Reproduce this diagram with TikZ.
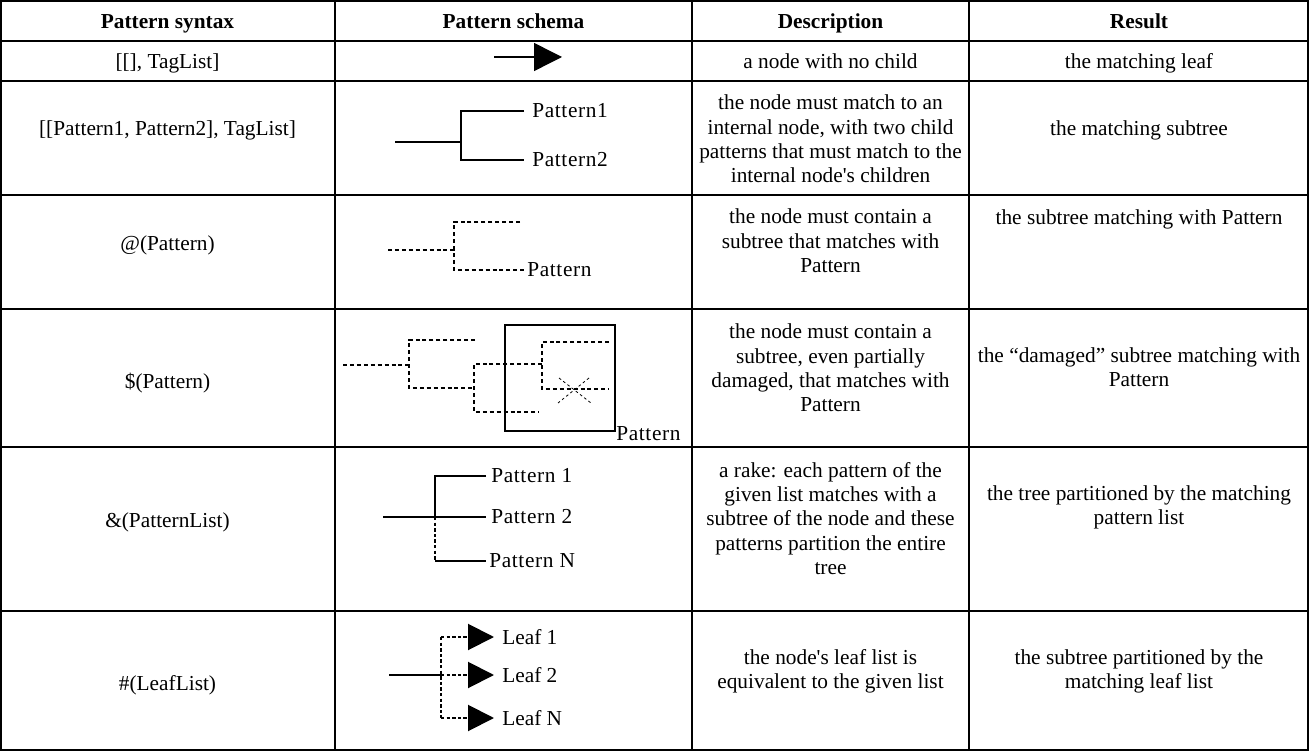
\documentclass[tikz,border=0pt]{standalone}
\usepackage{fontspec}
\setmainfont{Liberation Serif}
\newfontfamily\schemafont[LetterSpace=3.0]{Liberation Serif}
\usetikzlibrary{arrows.meta}

\begin{document}
\begin{tikzpicture}[x=0.75pt,y=-0.75pt,
  cell/.style={font=\fontsize{16}{18.3}\selectfont,align=center,inner sep=0pt,
    execute at begin node=\strut,execute at end node=\strut},
  head/.style={cell,font=\fontsize{16}{18.3}\selectfont\bfseries},
  rule/.style={line width=1.5pt},
  branch/.style={line width=1.1pt},
  dotbranch/.style={line width=2pt,dash pattern=on 3pt off 2.2pt},
  thindot/.style={line width=1.5pt,dash pattern=on 2.6pt off 1.6pt},
  cross/.style={line width=0.6pt,dash pattern=on 2pt off 2pt},
  frame/.style={line width=0.9pt},
  leaf/.style={-{Triangle[length=19.5pt,width=19.5pt]}},
  patlbl/.style={font=\schemafont\fontsize{16}{18.3}\selectfont,inner sep=0pt,anchor=west},
  leaflbl/.style={font=\fontsize{16}{18.3}\selectfont,inner sep=0pt,anchor=west}]
\useasboundingbox (0,0) rectangle (1310,752);

\draw[rule] (1,1) rectangle (1308,750);
\draw[rule] (335,1) -- (335,750);
\draw[rule] (692,1) -- (692,750);
\draw[rule] (969,1) -- (969,750);
\draw[rule] (1,41) -- (1308,41);
\draw[rule] (1,81) -- (1308,81);
\draw[rule] (1,195) -- (1308,195);
\draw[rule] (1,309) -- (1308,309);
\draw[rule] (1,447) -- (1308,447);
\draw[rule] (1,611) -- (1308,611);

\node[head] (h1) at (167.5,24) {Pattern syntax};
\node[head] (h2) at (513.5,24) {Pattern schema};
\node[head] (h3) at (830.5,24) {Description};
\node[head] (h4) at (1139,24) {Result};

\node[cell] (s1) at (167.5,63.5) {[[], TagList]};
\node[cell] (d1) at (830.5,63.5) {a node with no child};
\node[cell] (r1) at (1139,63.5) {the matching leaf};

\node[cell] (s2) at (167.5,130.5) {[[Pattern1, Pattern2], TagList]};
\node[cell] (d2) at (830.5,142.5) {the node must match to an\\internal node, with two child\\patterns that must match to the\\internal node\textquotesingle s children};
\node[cell] (r2) at (1139,130.5) {the matching subtree};

\node[cell] (s3) at (167.5,245.5) {@(Pattern)};
\node[cell] (d3) at (830.5,244.5) {the node must contain a\\subtree that matches with\\Pattern};
\node[cell] (r3) at (1139,219.5) {the subtree matching with Pattern};

\node[cell] (s4) at (167.5,383.5) {\$(Pattern)};
\node[cell] (d4) at (830.5,371.5) {the node must contain a\\subtree, even partially\\damaged, that matches with\\Pattern};
\node[cell] (r4) at (1139,370.5) {the “damaged” subtree matching with\\Pattern};

\node[cell] (s5) at (167.5,522.5) {\&(PatternList)};
\node[cell] (d5) at (830.5,522) {a rake: each pattern of the\\given list matches with a\\subtree of the node and these\\patterns partition the entire\\tree};
\node[cell] (r5) at (1139,509) {the tree partitioned by the matching\\pattern list};

\node[cell] (s6) at (167.5,685.5) {\#(LeafList)};
\node[cell] (d6) at (830.5,672.5) {the node\textquotesingle s leaf list is\\equivalent to the given list};
\node[cell] (r6) at (1139,672.5) {the subtree partitioned by the\\matching leaf list};

\coordinate (t1root) at (494,57);
\coordinate (t1leaf) at (562,57);
\draw[branch,-{Triangle[length=21pt,width=21pt]}] (t1root) -- (t1leaf);

\coordinate (t2root) at (395,142);
\coordinate (t2in) at (461,142);
\node[patlbl] (p2a) at (532,111) {Pattern1};
\node[patlbl] (p2b) at (532,160) {Pattern2};
\draw[branch] (t2root) -- (t2in);
\draw[branch] ([xshift=-6pt]p2a.west) -| (t2in) |- ([xshift=-6pt]p2b.west);

\coordinate (t3root) at (388,250);
\coordinate (t3in) at (454,250);
\coordinate (t3top) at (520,222);
\node[patlbl] (p3) at (527,270) {Pattern};
\draw[dotbranch] (t3root) -- (t3in);
\draw[dotbranch] (t3top) -| (t3in) |- ([xshift=-2pt]p3.west);

\coordinate (t4root) at (343,365);
\coordinate (t4a) at (409,365);
\coordinate (t4b) at (474,388);
\coordinate (t4c) at (542,364);
\coordinate (t4l1) at (475,340);
\coordinate (t4l2) at (539,412);
\coordinate (t4l3) at (609,342);
\coordinate (t4l4) at (609,389);
\draw[dotbranch] (t4root) -- (t4a);
\draw[dotbranch] (t4l1) -| (t4a) |- (t4b);
\draw[dotbranch] (t4c) -| (t4b) |- (t4l2);
\draw[dotbranch] (t4l3) -| (t4c) |- (t4l4);
\draw[cross] (559,378) -- (591,403);
\draw[cross] (589,378) -- (558,403);
\draw[frame] (505,325) rectangle (615,431);
\node[patlbl] (p4) at (616,434) {Pattern};

\coordinate (t5root) at (383,517);
\coordinate (t5in) at (435,517);
\node[patlbl] (p5a) at (491,476) {Pattern 1};
\node[patlbl] (p5b) at (491,517) {Pattern 2};
\node[patlbl] (p5n) at (489,561) {Pattern N};
\draw[branch] (t5root) -- ([xshift=-3.75pt]p5b.west);
\draw[branch] ([xshift=-3.75pt]p5a.west) -| (t5in);
\draw[thindot] (t5in) -- (t5in |- p5n);
\draw[branch] (t5in |- p5n) -- ([xshift=-2.25pt]p5n.west);

\coordinate (t6root) at (389,675);
\coordinate (t6in) at (441,675);
\node[leaflbl] (l1) at (502,637) {Leaf 1};
\node[leaflbl] (l2) at (502,675) {Leaf 2};
\node[leaflbl] (ln) at (502,718) {Leaf N};
\draw[branch] (t6root) -- (t6in);
\draw[thindot] (t6in |- l1) -- (t6in |- ln);
\draw[thindot,leaf] (t6in |- l1) -- ([xshift=-6pt]l1.west);
\draw[thindot,leaf] (t6in) -- ([xshift=-6pt]l2.west);
\draw[thindot,leaf] (t6in |- ln) -- ([xshift=-6pt]ln.west);
\end{tikzpicture}
\end{document}
